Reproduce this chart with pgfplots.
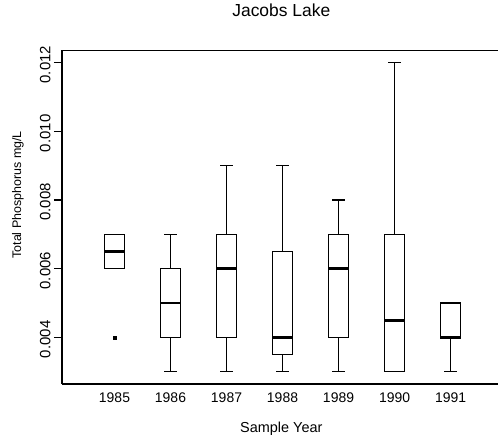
\documentclass[border=0pt]{standalone}
\usepackage{pgfplots}
\pgfplotsset{compat=1.18}
\usepgfplotslibrary{statistics}
\usepackage{fontspec}
\setmainfont{Liberation Sans}

\begin{document}
\begin{tikzpicture}
% values in units of 0.001 mg/L
\begin{axis}[
  scale only axis, width=436bp, height=333.5bp,
  xmin=-0.9375, xmax=6.848,
  ymin=2.64, ymax=12.355,
  axis x line=box, axis y line=left,
  axis line style={-, line width=1.6bp},
  xtick={0,1,2,3,4,5,6},
  xticklabels={1985,1986,1987,1988,1989,1990,1991},
  x tick style={draw=none},
  xticklabel style={font=\fontsize{14}{15}\selectfont, yshift=2.7bp},
  ytick={4,6,8,10,12},
  yticklabels={0.004,0.006,0.008,0.010,0.012},
  yticklabel style={rotate=90, anchor=south, xshift=-2bp, font=\fontsize{15}{16}\selectfont},
  tick align=outside,
  y tick style={line width=1.4bp, black},
  major tick length=8bp,
  title={Jacobs Lake},
  title style={font=\fontsize{17.5}{20}\selectfont, at={(axis description cs:0.503,1.1035)}, anchor=center},
  xlabel={Sample Year},
  xlabel style={font=\fontsize{14.5}{16}\selectfont, at={(axis description cs:0.503,-0.135)}, anchor=center},
  ylabel={Total Phosphorus mg/L},
  ylabel style={font=\fontsize{12.5}{14}\selectfont, at={(axis description cs:-0.101,0.567)}, anchor=center, rotate=0},
  boxplot/draw direction=y,
  boxplot/box extend=0.36,
  boxplot/whisker extend=0.22,
  boxplot/every median/.style={line width=2.8bp},
  clip=false,
]
\addplot[black, line width=1.5bp, boxplot/whisker extend=0, boxplot prepared={draw position=0, median=6.5, upper quartile=7, lower quartile=6, upper whisker=7, lower whisker=6}] coordinates {};
\addplot[black, line width=1.5bp, boxplot prepared={draw position=1, median=5, upper quartile=6, lower quartile=4, upper whisker=7, lower whisker=3}] coordinates {};
\addplot[black, line width=1.5bp, boxplot prepared={draw position=2, median=6, upper quartile=7, lower quartile=4, upper whisker=9, lower whisker=3}] coordinates {};
\addplot[black, line width=1.5bp, boxplot prepared={draw position=3, median=4, upper quartile=6.5, lower quartile=3.5, upper whisker=9, lower whisker=3}] coordinates {};
\addplot[black, line width=1.5bp, boxplot prepared={draw position=4, median=6, upper quartile=7, lower quartile=4, upper whisker=8, lower whisker=3}] coordinates {};
\addplot[black, line width=1.5bp, boxplot prepared={draw position=5, median=4.5, upper quartile=7, lower quartile=3, upper whisker=12, lower whisker=3}] coordinates {};
\addplot[black, line width=1.5bp, boxplot prepared={draw position=6, median=4, upper quartile=5, lower quartile=4, upper whisker=5, lower whisker=3}] coordinates {};
\addplot[only marks, mark=square*, mark size=1.4bp, black] coordinates {(0,4)};
\end{axis}
\pgfresetboundingbox
\path (current axis.south west) +(-62bp,-64bp) rectangle +(436bp,384bp);
\end{tikzpicture}
\end{document}
